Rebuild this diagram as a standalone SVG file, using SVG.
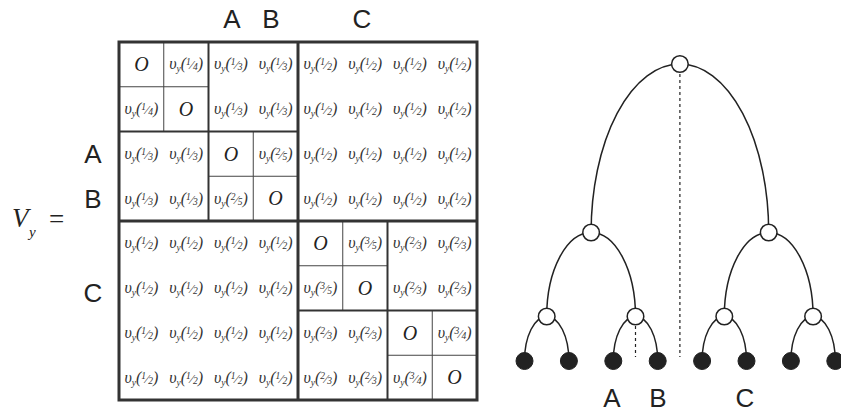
<svg xmlns="http://www.w3.org/2000/svg" width="841" height="414" viewBox="0 0 841 414">
<style>
.c{font-family:"Liberation Serif",serif;font-style:italic;font-size:16px;fill:#333;text-anchor:middle}
.z{font-family:"Liberation Serif",serif;font-style:italic;font-size:20px;fill:#222;text-anchor:middle}
.s{font-size:9.5px}
.l{font-size:13px}
.lab{font-family:"Liberation Sans",Arial,sans-serif;font-size:26px;fill:#222;text-anchor:middle}
.thick{stroke:#333;stroke-width:3;fill:none}
.med{stroke:#333;stroke-width:2;fill:none}
.thin{stroke:#444;stroke-width:1;fill:none}
.edge{stroke:#222;stroke-width:1.5;fill:none}
.dot{stroke:#222;stroke-width:1.2;stroke-dasharray:3 3;fill:none}
.open{fill:#fff;stroke:#222;stroke-width:1.5}
.leaf{fill:#222;stroke:#222;stroke-width:1}
</style>
<rect width="841" height="414" fill="#fff"/>
<g id="equation">
<text x="12" y="227" font-family="Liberation Serif,serif" font-style="italic" font-size="27" fill="#222">V</text>
<text x="29" y="237" font-family="Liberation Serif,serif" font-style="italic" font-size="15" fill="#222">y</text>
<text x="49" y="228" font-family="Liberation Serif,serif" font-size="27" fill="#222">=</text>
</g>
<g id="matrix-labels">
<text class="lab" x="232" y="28">A</text>
<text class="lab" x="271" y="28">B</text>
<text class="lab" x="362" y="28">C</text>
<text class="lab" x="93" y="163">A</text>
<text class="lab" x="93" y="208">B</text>
<text class="lab" x="93" y="302">C</text>
</g>
<g id="matrix-grid">
<line class="thin" x1="163.75" y1="42" x2="163.75" y2="131.5"/>
<line class="thin" x1="119" y1="86.75" x2="208.5" y2="86.75"/>
<line class="thin" x1="253.25" y1="131.5" x2="253.25" y2="221"/>
<line class="thin" x1="208.5" y1="176.25" x2="298" y2="176.25"/>
<line class="thin" x1="342.75" y1="221" x2="342.75" y2="310.5"/>
<line class="thin" x1="298" y1="265.75" x2="387.5" y2="265.75"/>
<line class="thin" x1="432.25" y1="310.5" x2="432.25" y2="400"/>
<line class="thin" x1="387.5" y1="355.25" x2="477" y2="355.25"/>
<line class="med" x1="208.5" y1="42" x2="208.5" y2="221"/>
<line class="med" x1="119" y1="131.5" x2="298" y2="131.5"/>
<line class="med" x1="387.5" y1="221" x2="387.5" y2="400"/>
<line class="med" x1="298" y1="310.5" x2="477" y2="310.5"/>
<line class="thick" x1="298" y1="42" x2="298" y2="400"/>
<line class="thick" x1="119" y1="221" x2="477" y2="221"/>
<rect class="thick" x="119" y="42" width="358" height="358"/>
</g>
<g id="matrix-cells">
<text class="z" x="141.4" y="71.2">O</text>
<text class="c" x="186.1" y="69.4">υ<tspan class="s" dy="3">y</tspan><tspan dy="-3">(</tspan><tspan class="s" dy="-4">1</tspan><tspan class="l" dy="4">⁄</tspan><tspan class="s" dy="1">4</tspan><tspan dy="-1">)</tspan></text>
<text class="c" x="230.9" y="69.4">υ<tspan class="s" dy="3">y</tspan><tspan dy="-3">(</tspan><tspan class="s" dy="-4">1</tspan><tspan class="l" dy="4">⁄</tspan><tspan class="s" dy="1">3</tspan><tspan dy="-1">)</tspan></text>
<text class="c" x="275.6" y="69.4">υ<tspan class="s" dy="3">y</tspan><tspan dy="-3">(</tspan><tspan class="s" dy="-4">1</tspan><tspan class="l" dy="4">⁄</tspan><tspan class="s" dy="1">3</tspan><tspan dy="-1">)</tspan></text>
<text class="c" x="320.4" y="69.4">υ<tspan class="s" dy="3">y</tspan><tspan dy="-3">(</tspan><tspan class="s" dy="-4">1</tspan><tspan class="l" dy="4">⁄</tspan><tspan class="s" dy="1">2</tspan><tspan dy="-1">)</tspan></text>
<text class="c" x="365.1" y="69.4">υ<tspan class="s" dy="3">y</tspan><tspan dy="-3">(</tspan><tspan class="s" dy="-4">1</tspan><tspan class="l" dy="4">⁄</tspan><tspan class="s" dy="1">2</tspan><tspan dy="-1">)</tspan></text>
<text class="c" x="409.9" y="69.4">υ<tspan class="s" dy="3">y</tspan><tspan dy="-3">(</tspan><tspan class="s" dy="-4">1</tspan><tspan class="l" dy="4">⁄</tspan><tspan class="s" dy="1">2</tspan><tspan dy="-1">)</tspan></text>
<text class="c" x="454.6" y="69.4">υ<tspan class="s" dy="3">y</tspan><tspan dy="-3">(</tspan><tspan class="s" dy="-4">1</tspan><tspan class="l" dy="4">⁄</tspan><tspan class="s" dy="1">2</tspan><tspan dy="-1">)</tspan></text>

<text class="c" x="141.4" y="114.1">υ<tspan class="s" dy="3">y</tspan><tspan dy="-3">(</tspan><tspan class="s" dy="-4">1</tspan><tspan class="l" dy="4">⁄</tspan><tspan class="s" dy="1">4</tspan><tspan dy="-1">)</tspan></text>
<text class="z" x="186.1" y="115.9">O</text>
<text class="c" x="230.9" y="114.1">υ<tspan class="s" dy="3">y</tspan><tspan dy="-3">(</tspan><tspan class="s" dy="-4">1</tspan><tspan class="l" dy="4">⁄</tspan><tspan class="s" dy="1">3</tspan><tspan dy="-1">)</tspan></text>
<text class="c" x="275.6" y="114.1">υ<tspan class="s" dy="3">y</tspan><tspan dy="-3">(</tspan><tspan class="s" dy="-4">1</tspan><tspan class="l" dy="4">⁄</tspan><tspan class="s" dy="1">3</tspan><tspan dy="-1">)</tspan></text>
<text class="c" x="320.4" y="114.1">υ<tspan class="s" dy="3">y</tspan><tspan dy="-3">(</tspan><tspan class="s" dy="-4">1</tspan><tspan class="l" dy="4">⁄</tspan><tspan class="s" dy="1">2</tspan><tspan dy="-1">)</tspan></text>
<text class="c" x="365.1" y="114.1">υ<tspan class="s" dy="3">y</tspan><tspan dy="-3">(</tspan><tspan class="s" dy="-4">1</tspan><tspan class="l" dy="4">⁄</tspan><tspan class="s" dy="1">2</tspan><tspan dy="-1">)</tspan></text>
<text class="c" x="409.9" y="114.1">υ<tspan class="s" dy="3">y</tspan><tspan dy="-3">(</tspan><tspan class="s" dy="-4">1</tspan><tspan class="l" dy="4">⁄</tspan><tspan class="s" dy="1">2</tspan><tspan dy="-1">)</tspan></text>
<text class="c" x="454.6" y="114.1">υ<tspan class="s" dy="3">y</tspan><tspan dy="-3">(</tspan><tspan class="s" dy="-4">1</tspan><tspan class="l" dy="4">⁄</tspan><tspan class="s" dy="1">2</tspan><tspan dy="-1">)</tspan></text>

<text class="c" x="141.4" y="158.9">υ<tspan class="s" dy="3">y</tspan><tspan dy="-3">(</tspan><tspan class="s" dy="-4">1</tspan><tspan class="l" dy="4">⁄</tspan><tspan class="s" dy="1">3</tspan><tspan dy="-1">)</tspan></text>
<text class="c" x="186.1" y="158.9">υ<tspan class="s" dy="3">y</tspan><tspan dy="-3">(</tspan><tspan class="s" dy="-4">1</tspan><tspan class="l" dy="4">⁄</tspan><tspan class="s" dy="1">3</tspan><tspan dy="-1">)</tspan></text>
<text class="z" x="230.9" y="160.7">O</text>
<text class="c" x="275.6" y="158.9">υ<tspan class="s" dy="3">y</tspan><tspan dy="-3">(</tspan><tspan class="s" dy="-4">2</tspan><tspan class="l" dy="4">⁄</tspan><tspan class="s" dy="1">5</tspan><tspan dy="-1">)</tspan></text>
<text class="c" x="320.4" y="158.9">υ<tspan class="s" dy="3">y</tspan><tspan dy="-3">(</tspan><tspan class="s" dy="-4">1</tspan><tspan class="l" dy="4">⁄</tspan><tspan class="s" dy="1">2</tspan><tspan dy="-1">)</tspan></text>
<text class="c" x="365.1" y="158.9">υ<tspan class="s" dy="3">y</tspan><tspan dy="-3">(</tspan><tspan class="s" dy="-4">1</tspan><tspan class="l" dy="4">⁄</tspan><tspan class="s" dy="1">2</tspan><tspan dy="-1">)</tspan></text>
<text class="c" x="409.9" y="158.9">υ<tspan class="s" dy="3">y</tspan><tspan dy="-3">(</tspan><tspan class="s" dy="-4">1</tspan><tspan class="l" dy="4">⁄</tspan><tspan class="s" dy="1">2</tspan><tspan dy="-1">)</tspan></text>
<text class="c" x="454.6" y="158.9">υ<tspan class="s" dy="3">y</tspan><tspan dy="-3">(</tspan><tspan class="s" dy="-4">1</tspan><tspan class="l" dy="4">⁄</tspan><tspan class="s" dy="1">2</tspan><tspan dy="-1">)</tspan></text>

<text class="c" x="141.4" y="203.6">υ<tspan class="s" dy="3">y</tspan><tspan dy="-3">(</tspan><tspan class="s" dy="-4">1</tspan><tspan class="l" dy="4">⁄</tspan><tspan class="s" dy="1">3</tspan><tspan dy="-1">)</tspan></text>
<text class="c" x="186.1" y="203.6">υ<tspan class="s" dy="3">y</tspan><tspan dy="-3">(</tspan><tspan class="s" dy="-4">1</tspan><tspan class="l" dy="4">⁄</tspan><tspan class="s" dy="1">3</tspan><tspan dy="-1">)</tspan></text>
<text class="c" x="230.9" y="203.6">υ<tspan class="s" dy="3">y</tspan><tspan dy="-3">(</tspan><tspan class="s" dy="-4">2</tspan><tspan class="l" dy="4">⁄</tspan><tspan class="s" dy="1">5</tspan><tspan dy="-1">)</tspan></text>
<text class="z" x="275.6" y="205.4">O</text>
<text class="c" x="320.4" y="203.6">υ<tspan class="s" dy="3">y</tspan><tspan dy="-3">(</tspan><tspan class="s" dy="-4">1</tspan><tspan class="l" dy="4">⁄</tspan><tspan class="s" dy="1">2</tspan><tspan dy="-1">)</tspan></text>
<text class="c" x="365.1" y="203.6">υ<tspan class="s" dy="3">y</tspan><tspan dy="-3">(</tspan><tspan class="s" dy="-4">1</tspan><tspan class="l" dy="4">⁄</tspan><tspan class="s" dy="1">2</tspan><tspan dy="-1">)</tspan></text>
<text class="c" x="409.9" y="203.6">υ<tspan class="s" dy="3">y</tspan><tspan dy="-3">(</tspan><tspan class="s" dy="-4">1</tspan><tspan class="l" dy="4">⁄</tspan><tspan class="s" dy="1">2</tspan><tspan dy="-1">)</tspan></text>
<text class="c" x="454.6" y="203.6">υ<tspan class="s" dy="3">y</tspan><tspan dy="-3">(</tspan><tspan class="s" dy="-4">1</tspan><tspan class="l" dy="4">⁄</tspan><tspan class="s" dy="1">2</tspan><tspan dy="-1">)</tspan></text>

<text class="c" x="141.4" y="248.4">υ<tspan class="s" dy="3">y</tspan><tspan dy="-3">(</tspan><tspan class="s" dy="-4">1</tspan><tspan class="l" dy="4">⁄</tspan><tspan class="s" dy="1">2</tspan><tspan dy="-1">)</tspan></text>
<text class="c" x="186.1" y="248.4">υ<tspan class="s" dy="3">y</tspan><tspan dy="-3">(</tspan><tspan class="s" dy="-4">1</tspan><tspan class="l" dy="4">⁄</tspan><tspan class="s" dy="1">2</tspan><tspan dy="-1">)</tspan></text>
<text class="c" x="230.9" y="248.4">υ<tspan class="s" dy="3">y</tspan><tspan dy="-3">(</tspan><tspan class="s" dy="-4">1</tspan><tspan class="l" dy="4">⁄</tspan><tspan class="s" dy="1">2</tspan><tspan dy="-1">)</tspan></text>
<text class="c" x="275.6" y="248.4">υ<tspan class="s" dy="3">y</tspan><tspan dy="-3">(</tspan><tspan class="s" dy="-4">1</tspan><tspan class="l" dy="4">⁄</tspan><tspan class="s" dy="1">2</tspan><tspan dy="-1">)</tspan></text>
<text class="z" x="320.4" y="250.2">O</text>
<text class="c" x="365.1" y="248.4">υ<tspan class="s" dy="3">y</tspan><tspan dy="-3">(</tspan><tspan class="s" dy="-4">3</tspan><tspan class="l" dy="4">⁄</tspan><tspan class="s" dy="1">5</tspan><tspan dy="-1">)</tspan></text>
<text class="c" x="409.9" y="248.4">υ<tspan class="s" dy="3">y</tspan><tspan dy="-3">(</tspan><tspan class="s" dy="-4">2</tspan><tspan class="l" dy="4">⁄</tspan><tspan class="s" dy="1">3</tspan><tspan dy="-1">)</tspan></text>
<text class="c" x="454.6" y="248.4">υ<tspan class="s" dy="3">y</tspan><tspan dy="-3">(</tspan><tspan class="s" dy="-4">2</tspan><tspan class="l" dy="4">⁄</tspan><tspan class="s" dy="1">3</tspan><tspan dy="-1">)</tspan></text>

<text class="c" x="141.4" y="293.1">υ<tspan class="s" dy="3">y</tspan><tspan dy="-3">(</tspan><tspan class="s" dy="-4">1</tspan><tspan class="l" dy="4">⁄</tspan><tspan class="s" dy="1">2</tspan><tspan dy="-1">)</tspan></text>
<text class="c" x="186.1" y="293.1">υ<tspan class="s" dy="3">y</tspan><tspan dy="-3">(</tspan><tspan class="s" dy="-4">1</tspan><tspan class="l" dy="4">⁄</tspan><tspan class="s" dy="1">2</tspan><tspan dy="-1">)</tspan></text>
<text class="c" x="230.9" y="293.1">υ<tspan class="s" dy="3">y</tspan><tspan dy="-3">(</tspan><tspan class="s" dy="-4">1</tspan><tspan class="l" dy="4">⁄</tspan><tspan class="s" dy="1">2</tspan><tspan dy="-1">)</tspan></text>
<text class="c" x="275.6" y="293.1">υ<tspan class="s" dy="3">y</tspan><tspan dy="-3">(</tspan><tspan class="s" dy="-4">1</tspan><tspan class="l" dy="4">⁄</tspan><tspan class="s" dy="1">2</tspan><tspan dy="-1">)</tspan></text>
<text class="c" x="320.4" y="293.1">υ<tspan class="s" dy="3">y</tspan><tspan dy="-3">(</tspan><tspan class="s" dy="-4">3</tspan><tspan class="l" dy="4">⁄</tspan><tspan class="s" dy="1">5</tspan><tspan dy="-1">)</tspan></text>
<text class="z" x="365.1" y="294.9">O</text>
<text class="c" x="409.9" y="293.1">υ<tspan class="s" dy="3">y</tspan><tspan dy="-3">(</tspan><tspan class="s" dy="-4">2</tspan><tspan class="l" dy="4">⁄</tspan><tspan class="s" dy="1">3</tspan><tspan dy="-1">)</tspan></text>
<text class="c" x="454.6" y="293.1">υ<tspan class="s" dy="3">y</tspan><tspan dy="-3">(</tspan><tspan class="s" dy="-4">2</tspan><tspan class="l" dy="4">⁄</tspan><tspan class="s" dy="1">3</tspan><tspan dy="-1">)</tspan></text>

<text class="c" x="141.4" y="337.9">υ<tspan class="s" dy="3">y</tspan><tspan dy="-3">(</tspan><tspan class="s" dy="-4">1</tspan><tspan class="l" dy="4">⁄</tspan><tspan class="s" dy="1">2</tspan><tspan dy="-1">)</tspan></text>
<text class="c" x="186.1" y="337.9">υ<tspan class="s" dy="3">y</tspan><tspan dy="-3">(</tspan><tspan class="s" dy="-4">1</tspan><tspan class="l" dy="4">⁄</tspan><tspan class="s" dy="1">2</tspan><tspan dy="-1">)</tspan></text>
<text class="c" x="230.9" y="337.9">υ<tspan class="s" dy="3">y</tspan><tspan dy="-3">(</tspan><tspan class="s" dy="-4">1</tspan><tspan class="l" dy="4">⁄</tspan><tspan class="s" dy="1">2</tspan><tspan dy="-1">)</tspan></text>
<text class="c" x="275.6" y="337.9">υ<tspan class="s" dy="3">y</tspan><tspan dy="-3">(</tspan><tspan class="s" dy="-4">1</tspan><tspan class="l" dy="4">⁄</tspan><tspan class="s" dy="1">2</tspan><tspan dy="-1">)</tspan></text>
<text class="c" x="320.4" y="337.9">υ<tspan class="s" dy="3">y</tspan><tspan dy="-3">(</tspan><tspan class="s" dy="-4">2</tspan><tspan class="l" dy="4">⁄</tspan><tspan class="s" dy="1">3</tspan><tspan dy="-1">)</tspan></text>
<text class="c" x="365.1" y="337.9">υ<tspan class="s" dy="3">y</tspan><tspan dy="-3">(</tspan><tspan class="s" dy="-4">2</tspan><tspan class="l" dy="4">⁄</tspan><tspan class="s" dy="1">3</tspan><tspan dy="-1">)</tspan></text>
<text class="z" x="409.9" y="339.7">O</text>
<text class="c" x="454.6" y="337.9">υ<tspan class="s" dy="3">y</tspan><tspan dy="-3">(</tspan><tspan class="s" dy="-4">3</tspan><tspan class="l" dy="4">⁄</tspan><tspan class="s" dy="1">4</tspan><tspan dy="-1">)</tspan></text>

<text class="c" x="141.4" y="382.6">υ<tspan class="s" dy="3">y</tspan><tspan dy="-3">(</tspan><tspan class="s" dy="-4">1</tspan><tspan class="l" dy="4">⁄</tspan><tspan class="s" dy="1">2</tspan><tspan dy="-1">)</tspan></text>
<text class="c" x="186.1" y="382.6">υ<tspan class="s" dy="3">y</tspan><tspan dy="-3">(</tspan><tspan class="s" dy="-4">1</tspan><tspan class="l" dy="4">⁄</tspan><tspan class="s" dy="1">2</tspan><tspan dy="-1">)</tspan></text>
<text class="c" x="230.9" y="382.6">υ<tspan class="s" dy="3">y</tspan><tspan dy="-3">(</tspan><tspan class="s" dy="-4">1</tspan><tspan class="l" dy="4">⁄</tspan><tspan class="s" dy="1">2</tspan><tspan dy="-1">)</tspan></text>
<text class="c" x="275.6" y="382.6">υ<tspan class="s" dy="3">y</tspan><tspan dy="-3">(</tspan><tspan class="s" dy="-4">1</tspan><tspan class="l" dy="4">⁄</tspan><tspan class="s" dy="1">2</tspan><tspan dy="-1">)</tspan></text>
<text class="c" x="320.4" y="382.6">υ<tspan class="s" dy="3">y</tspan><tspan dy="-3">(</tspan><tspan class="s" dy="-4">2</tspan><tspan class="l" dy="4">⁄</tspan><tspan class="s" dy="1">3</tspan><tspan dy="-1">)</tspan></text>
<text class="c" x="365.1" y="382.6">υ<tspan class="s" dy="3">y</tspan><tspan dy="-3">(</tspan><tspan class="s" dy="-4">2</tspan><tspan class="l" dy="4">⁄</tspan><tspan class="s" dy="1">3</tspan><tspan dy="-1">)</tspan></text>
<text class="c" x="409.9" y="382.6">υ<tspan class="s" dy="3">y</tspan><tspan dy="-3">(</tspan><tspan class="s" dy="-4">3</tspan><tspan class="l" dy="4">⁄</tspan><tspan class="s" dy="1">4</tspan><tspan dy="-1">)</tspan></text>
<text class="z" x="454.6" y="384.4">O</text>
</g>
<g id="connectors">
<path class="edge" d="M679.9,64 A88.8,168.5 0 0 0 591.1,232.5"/>
<path class="edge" d="M679.9,64 A88.8,168.5 0 0 1 768.7,232.5"/>
<path class="edge" d="M591.1,232.5 A44.4,84 0 0 0 546.7,316.5"/>
<path class="edge" d="M591.1,232.5 A44.4,84 0 0 1 635.5,316.5"/>
<path class="edge" d="M768.7,232.5 A44.4,84 0 0 0 724.3,316.5"/>
<path class="edge" d="M768.7,232.5 A44.4,84 0 0 1 813.1,316.5"/>
<path class="edge" d="M546.7,316.5 A22.2,44.5 0 0 0 524.5,361"/>
<path class="edge" d="M546.7,316.5 A22.2,44.5 0 0 1 568.9,361"/>
<path class="edge" d="M635.5,316.5 A22.2,44.5 0 0 0 613.3,361"/>
<path class="edge" d="M635.5,316.5 A22.2,44.5 0 0 1 657.7,361"/>
<path class="edge" d="M724.3,316.5 A22.2,44.5 0 0 0 702.1,361"/>
<path class="edge" d="M724.3,316.5 A22.2,44.5 0 0 1 746.5,361"/>
<path class="edge" d="M813.1,316.5 A22.2,44.5 0 0 0 790.9,361"/>
<path class="edge" d="M813.1,316.5 A22.2,44.5 0 0 1 835.3,361"/>
<line class="dot" x1="679.9" y1="74" x2="679.9" y2="357"/>
<line class="dot" x1="635.5" y1="326" x2="635.5" y2="357"/>
</g>
<g id="root"><circle class="open" cx="679.9" cy="64" r="8.3"/></g>
<g id="n1"><circle class="open" cx="591.1" cy="232.5" r="8.3"/></g>
<g id="n2"><circle class="open" cx="768.7" cy="232.5" r="8.3"/></g>
<g id="n3"><circle class="open" cx="546.7" cy="316.5" r="8.3"/></g>
<g id="n4"><circle class="open" cx="635.5" cy="316.5" r="8.3"/></g>
<g id="n5"><circle class="open" cx="724.3" cy="316.5" r="8.3"/></g>
<g id="n6"><circle class="open" cx="813.1" cy="316.5" r="8.3"/></g>
<g id="leaf1"><circle class="leaf" cx="524.5" cy="361" r="8.5"/></g>
<g id="leaf2"><circle class="leaf" cx="568.9" cy="361" r="8.5"/></g>
<g id="leaf3"><circle class="leaf" cx="613.3" cy="361" r="8.5"/></g>
<g id="leaf4"><circle class="leaf" cx="657.7" cy="361" r="8.5"/></g>
<g id="leaf5"><circle class="leaf" cx="702.1" cy="361" r="8.5"/></g>
<g id="leaf6"><circle class="leaf" cx="746.5" cy="361" r="8.5"/></g>
<g id="leaf7"><circle class="leaf" cx="790.9" cy="361" r="8.5"/></g>
<g id="leaf8"><circle class="leaf" cx="835.3" cy="361" r="8.5"/></g>
<g id="tree-labels">
<text class="lab" x="612" y="407">A</text>
<text class="lab" x="658" y="407">B</text>
<text class="lab" x="745" y="407">C</text>
</g>
</svg>
